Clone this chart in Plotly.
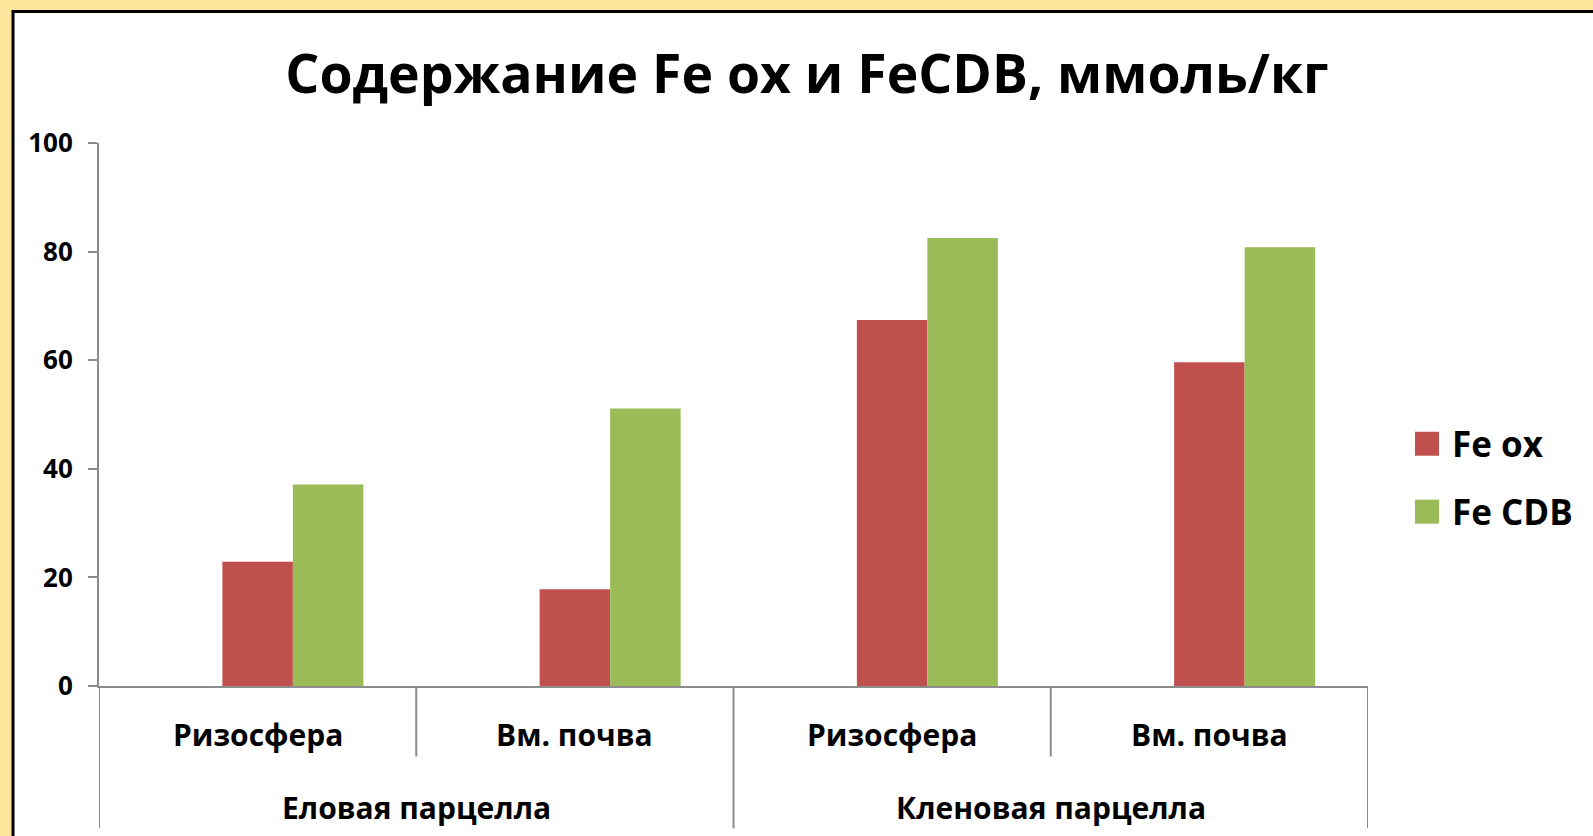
import plotly.graph_objects as go

# --- data ---------------------------------------------------------------
groups = ["Еловая парцелла", "Еловая парцелла", "Кленовая парцелла", "Кленовая парцелла"]
subcats = ["Ризосфера", "Вм. почва", "Ризосфера", "Вм. почва"]
fe_ox = [22.9, 17.8, 67.4, 59.6]
fe_cdb = [37.1, 51.1, 82.5, 80.8]
series_names = ["Fe ox", "Fe CDB"]
series_colors = ["#C0504D", "#9BBB59"]
y_ticks = [0, 20, 40, 60, 80, 100]

title_text = "Содержание Fe ox и FeCDB, ммоль/кг"

# --- geometry (pixels) --------------------------------------------------
W, H = 1593, 836
PL, PR, PT, PB = 99, 1368, 143, 686.5        # plot-area edges
FONT = "Open Sans"
AXIS_GREY = "#8C8C8C"


def px_x(px):
    return (px - PL) / (PR - PL)


def px_y(py):
    return (PB - py) / (PB - PT)


xs = list(range(len(subcats)))

fig = go.Figure()
# an empty leading slot keeps the two visible bars in the right half of
# each category, as in the original spreadsheet layout
fig.add_trace(go.Bar(x=xs, y=[None] * len(xs), showlegend=False,
                     hoverinfo="skip", marker_color="rgba(0,0,0,0)"))
for name, vals, col in zip(series_names, [fe_ox, fe_cdb], series_colors):
    fig.add_trace(go.Bar(x=xs, y=vals, name=name, marker_color=col,
                         marker_line_width=0, showlegend=False))

shapes = []
annotations = []

# white chart sheet with a black frame on a pale-yellow page
shapes.append(dict(type="rect", xref="paper", yref="paper", layer="below",
                   x0=px_x(13), x1=px_x(W + 50), y0=px_y(H + 50), y1=px_y(11.5),
                   fillcolor="white", line=dict(color="black", width=3)))

# category boundaries below the axis: short between sub-categories,
# long between groups and at both ends
n = len(subcats)
for i in range(n + 1):
    xb = i - 0.5
    is_group_edge = i == 0 or i == n or groups[i - 1] != groups[i]
    bottom = 829 if is_group_edge else 757
    shapes.append(dict(type="line", xref="x", yref="paper",
                       x0=xb, x1=xb, y0=px_y(PB), y1=px_y(bottom),
                       line=dict(color=AXIS_GREY, width=2)))

# sub-category labels
for i, s in enumerate(subcats):
    annotations.append(dict(x=i, y=px_y(735), xref="x", yref="paper",
                            xanchor="center", yanchor="middle",
                            text=f"<b>{s}</b>", showarrow=False,
                            font=dict(family=FONT, size=30, color="black")))
# group labels, centred on their categories
seen = []
for g in groups:
    if g not in seen:
        seen.append(g)
for g in seen:
    idx = [i for i, gg in enumerate(groups) if gg == g]
    annotations.append(dict(x=(idx[0] + idx[-1]) / 2, y=px_y(808), xref="x", yref="paper",
                            xanchor="center", yanchor="middle",
                            text=f"<b>{g}</b>", showarrow=False,
                            font=dict(family=FONT, size=30, color="black")))

# legend: large square swatches with bold labels
leg_rows = [444, 512]
for name, col, cy in zip(series_names, series_colors, leg_rows):
    shapes.append(dict(type="rect", xref="paper", yref="paper",
                       x0=px_x(1415), x1=px_x(1439), y0=px_y(cy + 12), y1=px_y(cy - 12),
                       fillcolor=col, line=dict(width=0)))
    annotations.append(dict(x=px_x(1450), y=px_y(cy), xref="paper", yref="paper",
                            xanchor="left", yanchor="middle", showarrow=False,
                            text=f"<b>{name}</b>",
                            font=dict(family=FONT, size=35, color="black")))

fig.update_layout(
    width=W, height=H,
    margin=dict(l=PL, r=W - PR, t=PT, b=H - PB, pad=0),
    paper_bgcolor="#FFE49B",
    plot_bgcolor="white",
    barmode="group",
    bargap=1 / 3,
    bargroupgap=0,
    showlegend=False,
    title=dict(text=f"<b>{title_text}</b>", x=807 / W, xref="container", xanchor="center",
               y=1 - 74 / H, yref="container", yanchor="middle",
               font=dict(family=FONT, size=53.5, color="black")),
    shapes=shapes,
    annotations=annotations,
    xaxis=dict(range=[-0.5, n - 0.5], showticklabels=False, ticks="",
               showgrid=False, zeroline=False,
               showline=True, linecolor=AXIS_GREY, linewidth=2),
    yaxis=dict(range=[0, 100], tickvals=y_ticks, ticks="outside", ticklen=9,
               tickwidth=2, tickcolor=AXIS_GREY, ticklabelstandoff=10,
               showgrid=False, zeroline=False,
               showline=True, linecolor=AXIS_GREY, linewidth=2,
               tickfont=dict(family=FONT, size=26, color="black", weight="bold")),
)

fig.write_html("out.html")
